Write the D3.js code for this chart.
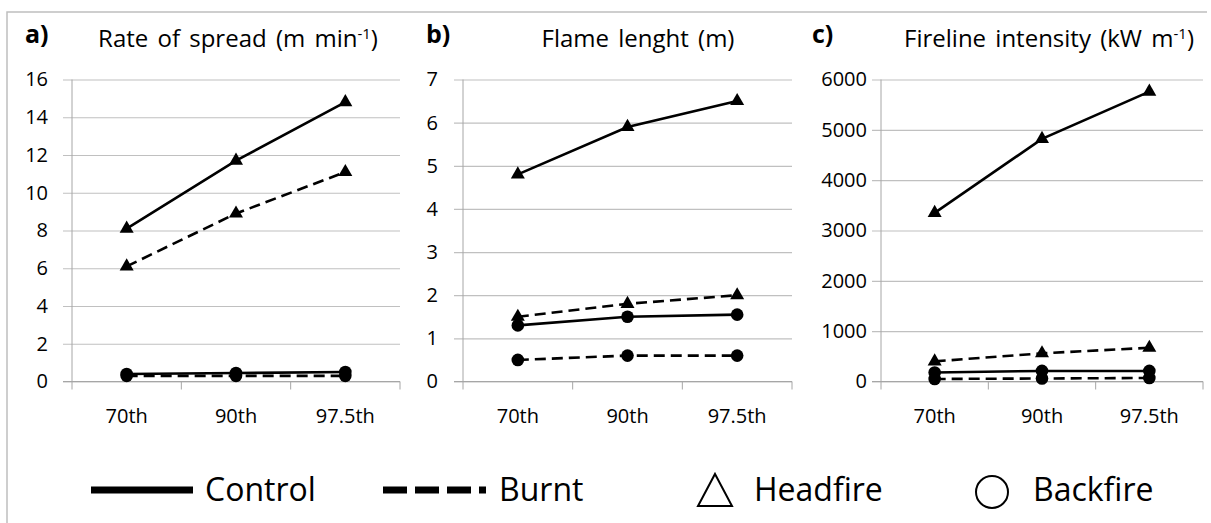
<!DOCTYPE html>
<html>
<head>
<meta charset="utf-8">
<script src="https://cdn.jsdelivr.net/npm/d3@7"></script>
<style>
  body { margin: 0; background: #fff; }
  svg text { font-family: "Open Sans", sans-serif; fill: #000; }
</style>
</head>
<body>
<div id="container"></div>
<script>
// categories (percentile weather conditions)
var categories = ["70th", "90th", "97.5th"];

// a) rate of spread (m min-1)
var rosControlHead = [8.1, 11.7, 14.8];
var rosBurntHead   = [6.1, 8.9, 11.1];
var rosControlBack = [0.4, 0.45, 0.5];
var rosBurntBack   = [0.3, 0.3, 0.3];

// b) flame length (m)
var flControlHead = [4.8, 5.9, 6.5];
var flBurntHead   = [1.5, 1.8, 2.0];
var flControlBack = [1.3, 1.5, 1.55];
var flBurntBack   = [0.5, 0.6, 0.6];

// c) fireline intensity (kW m-1)
var fiControlHead = [3350, 4820, 5760];
var fiBurntHead   = [400, 560, 670];
var fiControlBack = [180, 210, 210];
var fiBurntBack   = [50, 60, 70];

// y tick values per panel
var rosTicks = [0, 2, 4, 6, 8, 10, 12, 14, 16];
var flTicks  = [0, 1, 2, 3, 4, 5, 6, 7];
var fiTicks  = [0, 1000, 2000, 3000, 4000, 5000, 6000];

var legendLabels = ["Control", "Burnt", "Headfire", "Backfire"];

var w = 1211, h = 523;

var svg = d3.select("div#container")
  .append("svg")
  .attr("width", w)
  .attr("height", h);

// outer frame (only top and left show)
svg.append("path")
  .attr("d", "M7,523V12H1207")
  .attr("fill", "none")
  .attr("stroke", "#bfbfbf")
  .attr("stroke-width", 1.5);

var plotTop = 79.5, plotBottom = 381.5;

var panels = [
  { tag: "a)", tagX: 25, title: "Rate of spread (m min", sup: "-1", titleX: 238,
    left: 72, right: 400, ticks: rosTicks, pad: 15,
    series: [rosControlHead, rosBurntHead, rosControlBack, rosBurntBack] },
  { tag: "b)", tagX: 426, title: "Flame lenght (m)", sup: null, titleX: 638,
    left: 463, right: 792, ticks: flTicks, pad: 16,
    series: [flControlHead, flBurntHead, flControlBack, flBurntBack] },
  { tag: "c)", tagX: 812, title: "Fireline intensity (kW m", sup: "-1", titleX: 1049,
    left: 881, right: 1203, ticks: fiTicks, pad: 5,
    series: [fiControlHead, fiBurntHead, fiControlBack, fiBurntBack] }
];

// series styling: dashed or not, marker shape
var seriesStyle = [
  { dash: null,   marker: "tri" },
  { dash: "11,6", marker: "tri" },
  { dash: null,   marker: "dot" },
  { dash: "11,6", marker: "dot" }
];

panels.forEach(function(p) {
  var x = d3.scaleBand().domain(categories).range([p.left, p.right]);
  var y = d3.scaleLinear().domain([0, d3.max(p.ticks)]).range([plotBottom, plotTop]);
  var pw = p.right - p.left;

  var g = svg.append("g");

  // panel tag + title
  g.append("text")
    .attr("x", p.tagX).attr("y", 43)
    .style("font-size", "25px").style("font-weight", "bold")
    .text(p.tag);

  var t = g.append("text")
    .attr("x", p.titleX).attr("y", 47)
    .attr("text-anchor", "middle")
    .style("font-size", "24px")
    .style("word-spacing", "3px");
  t.append("tspan").text(p.title);
  if (p.sup) {
    t.append("tspan").attr("dy", -8).style("font-size", "15px").text(p.sup);
    t.append("tspan").attr("dy", 8).text(")");
  }

  // y axis with gridlines
  var yAxis = g.append("g")
    .attr("transform", "translate(" + p.left + ",0)")
    .call(d3.axisLeft(y).tickValues(p.ticks).tickFormat(d3.format("d"))
      .tickSizeInner(-pw).tickSizeOuter(0).tickPadding(p.pad + 9));
  yAxis.select(".domain").remove();
  yAxis.selectAll(".tick line")
    .attr("x1", -9)
    .attr("stroke", "#c0c0c0")
    .attr("stroke-width", 1.2);
  yAxis.selectAll(".tick text")
    .style("font-size", "20px")
    .style("font-family", "'Open Sans', sans-serif");

  g.append("line")
    .attr("x1", p.left).attr("x2", p.left)
    .attr("y1", plotTop).attr("y2", plotBottom)
    .attr("stroke", "#a6a6a6");

  // x axis with category boundary ticks
  var xAxis = g.append("g")
    .attr("transform", "translate(0," + plotBottom + ")")
    .call(d3.axisBottom(x).tickSize(0).tickPadding(27));
  xAxis.select(".domain").remove();
  xAxis.selectAll(".tick text")
    .style("font-size", "20px")
    .style("font-family", "'Open Sans', sans-serif");

  g.append("line")
    .attr("x1", p.left - 9).attr("x2", p.right)
    .attr("y1", plotBottom).attr("y2", plotBottom)
    .attr("stroke", "#a6a6a6").attr("stroke-width", 1.2);

  var bounds = categories.map(function(c) { return x(c); }).concat([p.right]);
  g.selectAll(".bound")
    .data(bounds)
    .enter().append("line")
    .attr("x1", function(d) { return d; })
    .attr("x2", function(d) { return d; })
    .attr("y1", plotBottom).attr("y2", plotBottom + 8)
    .attr("stroke", "#a6a6a6");

  var line = d3.line()
    .x(function(d, i) { return x(categories[i]) + x.bandwidth() / 2; })
    .y(function(d) { return y(d); });

  p.series.forEach(function(vals, si) {
    var st = seriesStyle[si];
    g.append("path")
      .datum(vals)
      .attr("d", line)
      .attr("fill", "none")
      .attr("stroke", "#000")
      .attr("stroke-width", 2.6)
      .attr("stroke-dasharray", st.dash);

    var sym = st.marker === "tri"
      ? d3.symbol().type(d3.symbolTriangle).size(85)
      : d3.symbol().type(d3.symbolCircle).size(125);

    g.selectAll(null)
      .data(vals)
      .enter().append("path")
      .attr("d", sym)
      .attr("transform", function(d, i) {
        return "translate(" + (x(categories[i]) + x.bandwidth() / 2) + "," + y(d) + ")";
      })
      .attr("fill", "#000");
  });
});

// legend
var lg = svg.append("g");
var ly = 490;

lg.append("line")
  .attr("x1", 91).attr("x2", 193).attr("y1", ly).attr("y2", ly)
  .attr("stroke", "#000").attr("stroke-width", 7);
lg.append("line")
  .attr("x1", 383).attr("x2", 486).attr("y1", ly).attr("y2", ly)
  .attr("stroke", "#000").attr("stroke-width", 7)
  .attr("stroke-dasharray", "24,8");
lg.append("path")
  .attr("d", "M715,474L732,506H698Z")
  .attr("fill", "none").attr("stroke", "#000").attr("stroke-width", 2);
lg.append("circle")
  .attr("cx", 992).attr("cy", 492).attr("r", 16)
  .attr("fill", "none").attr("stroke", "#000").attr("stroke-width", 2);

var legendX = [205, 499, 754, 1033];
lg.selectAll(".lbl")
  .data(legendLabels)
  .enter().append("text")
  .attr("x", function(d, i) { return legendX[i]; })
  .attr("y", 501)
  .style("font-size", "32px")
  .text(function(d) { return d; });
</script>
</body>
</html>
